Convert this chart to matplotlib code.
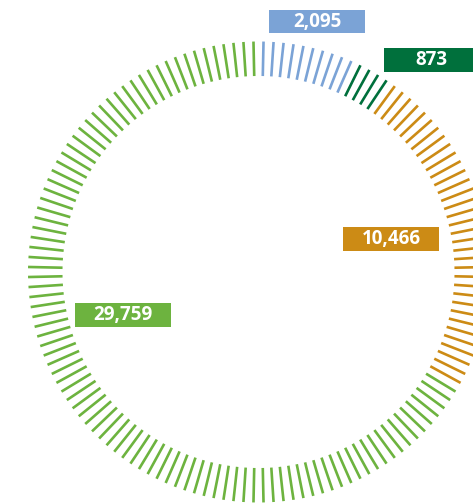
import numpy as np
import matplotlib
matplotlib.use("Agg")
import matplotlib.pyplot as plt
from matplotlib.patches import Rectangle

# Segment data, clockwise from 12 o'clock
values = [2095, 873, 10466, 29759]
tick_counts = [10, 4, 34, 96]   # ticks per segment, counted off the picture
colors = ['#7ba3d6', '#00703c', '#cc8b15', '#6db33f']

W, H = 473, 504
fig = plt.figure(figsize=(W / 100, H / 100), dpi=100)

# Polar axes for the ring of radial ticks
cx, cy, rmax = 258.5, 272, 232
ax = fig.add_axes([(cx - rmax) / W, (H - cy - rmax) / H, 2 * rmax / W, 2 * rmax / H],
                  projection='polar')
ax.set_theta_zero_location('N')
ax.set_theta_direction(-1)
ax.set_ylim(0, rmax)
ax.axis('off')

n_total = sum(tick_counts)
step = 2 * np.pi / n_total
r_in, r_out = 196, 230.5
i = 0
for count, col in zip(tick_counts, colors):
    for _ in range(count):
        th = (i + 0.5) * step
        ax.plot([th, th], [r_in, r_out], color=col, lw=1.9,
                solid_capstyle='butt', clip_on=False)
        i += 1

# Overlay axes in pixel units for the value labels
ov = fig.add_axes([0, 0, 1, 1])
ov.set_xlim(0, W)
ov.set_ylim(H, 0)
ov.axis('off')

label_boxes = [(269, 10, 96, 23), (384, 48, 100, 24), (343, 227, 96, 24), (75, 303, 96, 24)]
text_pos = [(317, 21.5), (431, 60), (391, 239), (123, 315)]
for val, col, (bx, by, bw, bh), (tx, ty) in zip(values, colors, label_boxes, text_pos):
    ov.add_patch(Rectangle((bx, by), bw, bh, color=col, lw=0))
    ov.text(tx, ty, f'{val:,}', color='white', fontsize=13.5, fontweight='bold',
            family='Open Sans', ha='center', va='center')

fig.savefig('out.png', dpi=100)
